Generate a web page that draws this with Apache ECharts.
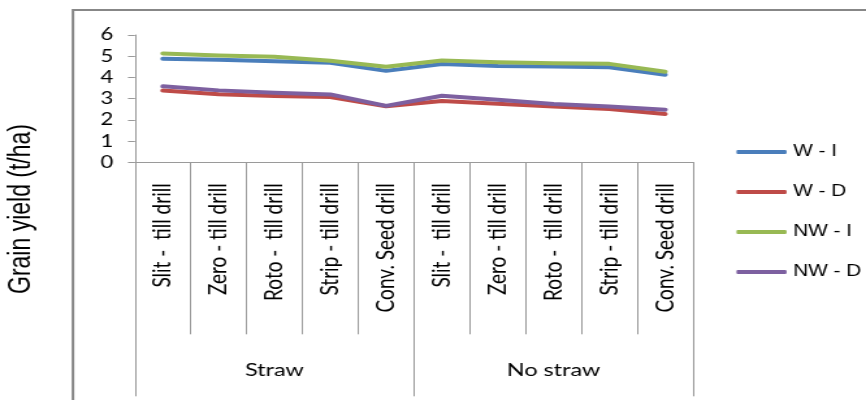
<!DOCTYPE html>
<html>
<head>
<meta charset="utf-8">
<script src="https://cdn.jsdelivr.net/npm/echarts@6/dist/echarts.min.js"></script>
<style>
  html, body { margin: 0; padding: 0; background: #fff; overflow: hidden; }
  /* chart is laid out on a narrower canvas and widened to the full page */
  #chart { width: 666px; height: 400px; transform: scaleX(1.3003); transform-origin: 0 0; }
</style>
</head>
<body>
<div id="chart"></div>
<script>
// Tillage methods, repeated for the two residue groups
const categories = [
  'Slit -  till drill', 'Zero - till drill', 'Roto -  till drill', 'Strip - till drill', 'Conv. Seed drill',
  'Slit -  till drill', 'Zero - till drill', 'Roto -  till drill', 'Strip - till drill', 'Conv. Seed drill'
];
const groups = ['Straw', 'No straw'];

// Grain yield (t/ha)
const wI  = [4.88, 4.83, 4.76, 4.69, 4.31, 4.63, 4.54, 4.51, 4.48, 4.13];
const wD  = [3.38, 3.21, 3.13, 3.08, 2.64, 2.89, 2.76, 2.63, 2.51, 2.28];
const nwI = [5.13, 5.03, 4.97, 4.79, 4.50, 4.80, 4.72, 4.67, 4.64, 4.27];
const nwD = [3.58, 3.39, 3.28, 3.20, 2.66, 3.14, 2.95, 2.75, 2.63, 2.48];

const yTicks = { min: 0, max: 6, interval: 1 };

const seriesDefs = [
  { name: 'W - I',  data: wI,  color: '#4a7ebb' },
  { name: 'W - D',  data: wD,  color: '#be4b48' },
  { name: 'NW - I', data: nwI, color: '#98b954' },
  { name: 'NW - D', data: nwD, color: '#7d60a0' }
];

const axisGray = '#9a9a9a';
const chart = echarts.init(document.getElementById('chart'), null, { renderer: 'canvas' });

chart.setOption({
  animation: false,
  backgroundColor: '#ffffff',
  grid: { left: 103.8, top: 35, width: 429.2, height: 127.3, containLabel: false },
  legend: {
    orient: 'vertical',
    left: 561.4,
    top: 139,
    icon: 'roundRect',
    itemWidth: 38.5,
    itemHeight: 4,
    itemGap: 24,
    textStyle: { fontFamily: 'Liberation Sans', fontSize: 16, lineHeight: 16, color: '#000' },
    data: seriesDefs.map(s => s.name)
  },
  xAxis: [
    {
      type: 'category',
      data: categories,
      boundaryGap: true,
      axisLine: { show: true, lineStyle: { color: axisGray, width: 1 } },
      axisTick: { show: true, interval: 0, length: 172, lineStyle: { color: axisGray, width: 1 } },
      axisLabel: {
        interval: 0, rotate: 90, margin: 21,
        fontFamily: 'Lato', fontSize: 19, color: '#000'
      },
      splitLine: { show: false }
    },
    {
      type: 'category',
      data: groups,
      position: 'bottom',
      boundaryGap: true,
      axisLine: { show: false },
      axisTick: { show: true, interval: 0, length: 234, lineStyle: { color: axisGray, width: 1 } },
      axisLabel: { interval: 0, margin: 199, fontFamily: 'Lato', fontSize: 18, color: '#000' },
      splitLine: { show: false }
    }
  ],
  yAxis: {
    type: 'value',
    min: yTicks.min,
    max: yTicks.max,
    interval: yTicks.interval,
    axisLine: { show: true, lineStyle: { color: axisGray, width: 1 } },
    axisTick: { show: true, length: 5.4, lineStyle: { color: axisGray, width: 1 } },
    axisLabel: { margin: 16.6, fontFamily: 'Lato', fontSize: 17, color: '#000' },
    splitLine: { show: false }
  },
  series: seriesDefs.map(s => ({
    name: s.name,
    type: 'line',
    xAxisIndex: 0,
    data: s.data,
    symbol: 'none',
    color: s.color,
    lineStyle: { color: s.color, width: 4, cap: 'round', join: 'round' }
  })),
  graphic: [
    {
      type: 'rect',
      silent: true,
      shape: { x: 56.1, y: 10, width: 800, height: 500 },
      style: { fill: 'none', stroke: '#878787', lineWidth: 2 }
    },
    {
      type: 'text',
      x: 16.5,
      y: 209,
      rotation: Math.PI / 2,
      style: {
        text: 'Grain yield (t/ha)',
        font: '23px "Liberation Sans"',
        fill: '#000',
        textAlign: 'center',
        textVerticalAlign: 'middle'
      }
    }
  ]
});
</script>
</body>
</html>
